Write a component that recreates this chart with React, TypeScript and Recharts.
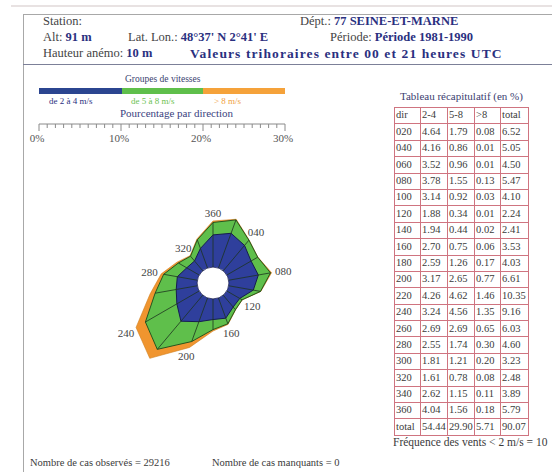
import React from "react";
import { RadarChart, PolarAngleAxis, PolarRadiusAxis, Radar, LineChart, XAxis } from "recharts";

const DIRECTIONS = ["020", "040", "060", "080", "100", "120", "140", "160", "180", "200", "220", "240", "260", "280", "300", "320", "340", "360"];
const SPEED_2_4 = [4.64, 4.16, 3.52, 3.78, 3.14, 1.88, 1.94, 2.7, 2.59, 3.17, 4.26, 3.24, 2.69, 2.55, 1.81, 1.61, 2.62, 4.04];
const SPEED_5_8 = [1.79, 0.86, 0.96, 1.55, 0.92, 0.34, 0.44, 0.75, 1.26, 2.65, 4.62, 4.56, 2.69, 1.74, 1.21, 0.78, 1.15, 1.56];
const SPEED_GT_8 = [0.08, 0.01, 0.01, 0.13, 0.03, 0.01, 0.02, 0.06, 0.17, 0.77, 1.46, 1.35, 0.65, 0.3, 0.2, 0.08, 0.11, 0.18];
const TOTALS = [6.52, 5.05, 4.5, 5.47, 4.1, 2.24, 2.41, 3.53, 4.03, 6.61, 10.35, 9.16, 6.03, 4.6, 3.23, 2.48, 3.89, 5.79];
const COLUMN_TOTALS = [54.44, 29.9, 5.71, 90.07];
const TABLE_HEADERS = ["dir", "2-4", "5-8", ">8", "total"];
const LABELED_DIRS = ["360", "040", "080", "120", "160", "200", "240", "280", "320"];
const RULER_TICKS = [0, 1, 2, 3, 4, 5, 6, 7, 8, 9, 10, 11, 12, 13, 14, 15, 16, 17, 18, 19, 20, 21, 22, 23, 24, 25, 26, 27, 28, 29, 30];

const BLUE = "#2f3f9c";
const GREEN = "#5fbf4b";
const ORANGE = "#f0952f";
const NAVY = "#2a3080";
const SERIF = "Liberation Serif, DejaVu Serif, serif";

// px per % is 8.2, hole radius 13px -> domain offset
const HOLE_PCT = 1.585;
const MAX_PCT = 12.4;
const OUTER_R = (MAX_PCT + HOLE_PCT) * 8.2;

const roseData = DIRECTIONS.map((dir, i) => ({
  dir,
  inner: SPEED_2_4[i],
  mid: SPEED_2_4[i] + SPEED_5_8[i],
  outer: TOTALS[i],
  hole: 0,
}));

const rulerData = RULER_TICKS.map((pct) => ({ pct }));

const Spokes = (props: any) => {
  const pts = props.points || [];
  return (
    <g>
      {pts.map((p: any, i: number) => (
        <line key={i} x1={p.cx} y1={p.cy} x2={p.x} y2={p.y} stroke="#1d3320" strokeWidth={0.8} />
      ))}
    </g>
  );
};

const Hole = (props: any) => {
  const pts = props.points || [];
  if (!pts.length) return null;
  const p = pts[0];
  return <circle cx={p.cx} cy={p.cy} r={p.radius} fill="#fff" stroke="#1a1f55" strokeWidth={0.8} />;
};

const DirLabels = (props: any) => {
  const pts = props.points || [];
  return (
    <g>
      {pts
        .filter((p: any) => LABELED_DIRS.includes(p.payload.dir))
        .map((p: any) => {
          const a = (p.angle * Math.PI) / 180;
          const ux = Math.cos(a);
          const uy = -Math.sin(a);
          const r = p.radius + 8 + 4 * Math.abs(ux);
          return (
            <text
              key={p.payload.dir}
              x={p.cx + r * ux}
              y={p.cy + r * uy}
              textAnchor="middle"
              dominantBaseline="central"
              fontSize={11}
              fontFamily={SERIF}
              fill="#444"
            >
              {p.payload.dir}
            </text>
          );
        })}
    </g>
  );
};

const RulerTick = (props: any) => {
  const { x, y, payload } = props;
  const major = payload.value % 10 === 0;
  return (
    <g>
      <line x1={x} y1={y} x2={x} y2={y + (major ? 7 : 4)} stroke="#8a8a8a" strokeWidth={1} />
      {major && (
        <text x={x - 2} y={y + 18} textAnchor="middle" fontSize={11} fontFamily={SERIF} fill="#555">
          {payload.value}%
        </text>
      )}
    </g>
  );
};

const txt = (left: number, top: number, size: number, color: string, content: React.ReactNode, bold = false, spacing = 0) => (
  <div
    style={{
      position: "absolute",
      left,
      top,
      fontSize: size,
      color,
      fontWeight: bold ? "bold" : "normal",
      whiteSpace: "nowrap",
      lineHeight: 1,
      letterSpacing: spacing,
    }}
  >
    {content}
  </div>
);

export default function App() {
  const b = (s: string) => <b style={{ color: NAVY }}>{s}</b>;
  return (
    <div style={{ position: "absolute", left: 0, top: 0, width: 552, height: 472, background: "#fff", overflow: "hidden", fontFamily: SERIF }}>
      <div style={{ position: "absolute", left: 11, top: 5, width: 541, height: 2, background: "#e8e2e2" }} />
      <div style={{ position: "absolute", left: 23, top: 14, width: 600, height: 500, borderLeft: "1px solid #a8a8a8", borderTop: "1px solid #a8a8a8" }} />
      <div style={{ position: "absolute", left: 23, top: 64, width: 540, height: 1, background: "#7c8098" }} />

      {txt(43, 15, 12.5, "#444", "Station:")}
      {txt(300, 15, 12.5, "#444", <>Dépt.: {b("77  SEINE-ET-MARNE")}</>)}
      {txt(43, 31, 12.5, "#444", <>Alt: {b("91 m")}</>)}
      {txt(128, 31, 12.5, "#444", <>Lat. Lon.: {b("48°37' N  2°41' E")}</>)}
      {txt(330, 31, 12.5, "#444", <>Période: {b("Période 1981-1990")}</>)}
      {txt(43, 47, 12.5, "#444", <>Hauteur anémo: {b("10 m")}</>)}
      {txt(190, 47, 13.5, NAVY, "Valeurs trihoraires entre 00 et 21 heures UTC", true, 1.1)}

      {txt(125, 75, 9.5, "#3a3f70", "Groupes de vitesses")}
      <div style={{ position: "absolute", left: 39, top: 88, width: 83, height: 6, background: "#2b4590" }} />
      <div style={{ position: "absolute", left: 122, top: 88, width: 81, height: 6, background: GREEN }} />
      <div style={{ position: "absolute", left: 203, top: 88, width: 82, height: 6, background: "#f5a23a" }} />
      {txt(49, 97, 9, NAVY, "de 2 à 4 m/s")}
      {txt(131, 97, 9, "#6cbf50", "de 5 à 8 m/s")}
      {txt(214, 97, 9, "#f0a040", "> 8 m/s")}
      {txt(120, 108, 11, "#3a3f80", "Pourcentage par direction")}

      <div style={{ position: "absolute", left: 20, top: 109 }}>
        <LineChart width={280} height={45} data={rulerData} margin={{ top: 0, right: 15, bottom: 0, left: 19 }}>
          <XAxis
            type="number"
            dataKey="pct"
            domain={[0, 30]}
            allowDataOverflow
            ticks={RULER_TICKS}
            interval={0}
            height={30}
            tickSize={0}
            tickMargin={0}
            tickLine={false}
            axisLine={{ stroke: "#8a8a8a" }}
            tick={<RulerTick />}
          />
        </LineChart>
      </div>

      <div style={{ position: "absolute", left: 83, top: 153 }}>
        <RadarChart
          width={260}
          height={260}
          cx={130}
          cy={130}
          outerRadius={OUTER_R}
          startAngle={70}
          endAngle={-290}
          data={roseData}
          margin={{ top: 0, right: 0, bottom: 0, left: 0 }}
        >
          <PolarAngleAxis dataKey="dir" tick={false} axisLine={false} tickLine={false} />
          <PolarRadiusAxis type="number" domain={[-HOLE_PCT, MAX_PCT]} allowDataOverflow tick={false} axisLine={false} />
          <Radar dataKey="outer" fill={ORANGE} fillOpacity={1} stroke="#d0801f" strokeWidth={0.6} isAnimationActive={false} />
          <Radar dataKey="mid" fill={GREEN} fillOpacity={1} stroke="#24561f" strokeWidth={1} isAnimationActive={false} />
          <Radar dataKey="inner" fill={BLUE} fillOpacity={1} stroke="#161c50" strokeWidth={1} isAnimationActive={false} />
          <Radar dataKey="mid" shape={<Spokes />} isAnimationActive={false} />
          <Radar dataKey="hole" shape={<Hole />} isAnimationActive={false} />
          <Radar dataKey="outer" shape={<DirLabels />} isAnimationActive={false} />
        </RadarChart>
      </div>

      {txt(400, 91, 11, "#3c4070", "Tableau récapitulatif (en %)")}
      <table
        style={{
          position: "absolute",
          left: 394,
          top: 107,
          width: 134,
          borderCollapse: "collapse",
          tableLayout: "fixed",
          fontSize: 10.5,
          color: "#3a3a3a",
        }}
      >
        <colgroup>
          <col style={{ width: 26 }} />
          <col style={{ width: 27 }} />
          <col style={{ width: 27 }} />
          <col style={{ width: 26 }} />
          <col style={{ width: 28 }} />
        </colgroup>
        <tbody>
          {[TABLE_HEADERS, ...DIRECTIONS.map((d, i) => [d, SPEED_2_4[i].toFixed(2), SPEED_5_8[i].toFixed(2), SPEED_GT_8[i].toFixed(2), TOTALS[i].toFixed(2)]), ["total", ...COLUMN_TOTALS.map((v) => v.toFixed(2))]].map(
            (row, ri) => (
              <tr key={ri} style={{ height: 16.4 }}>
                {row.map((c, ci) => (
                  <td key={ci} style={{ border: "1px solid #cf7480", padding: "0 1px", lineHeight: 1, whiteSpace: "nowrap", overflow: "hidden" }}>
                    {c}
                  </td>
                ))}
              </tr>
            )
          )}
        </tbody>
      </table>
      {txt(393, 437, 11.5, "#3a3a3a", "Fréquence des vents < 2 m/s = 10")}

      {txt(30, 458, 10.5, "#3a3a3a", "Nombre de cas observés = 29216")}
      {txt(212, 458, 10.5, "#3a3a3a", "Nombre de cas manquants = 0")}
    </div>
  );
}
